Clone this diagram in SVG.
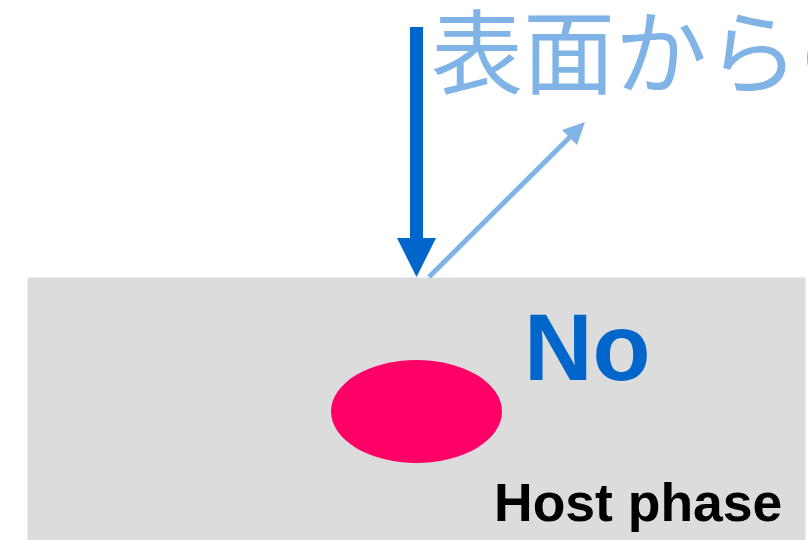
<svg xmlns="http://www.w3.org/2000/svg" width="808" height="540" viewBox="0 0 808 540">
<style>
.jp{font-family:"Noto Sans CJK JP","Noto Sans",sans-serif;fill:#80B3E6;}
.lbl{font-family:"Liberation Sans",Arial,sans-serif;font-weight:bold;}
</style>
<rect id="host" x="27.5" y="277.5" width="778" height="263" fill="#DCDCDC"/>
<g id="particle"><ellipse cx="416.5" cy="411.5" rx="85.5" ry="51.5" fill="#FF0066"/></g>
<g id="connectors">
<rect x="410" y="27" width="13" height="213" fill="#0066CC"/>
<polygon points="397,238 436,238 416.5,277" fill="#0066CC"/>
<line x1="429" y1="277" x2="572" y2="135" stroke="#80B3E6" stroke-width="5"/>
<polygon points="585,122 577,145 562,130" fill="#80B3E6"/>
</g>
<g id="title"><text class="jp" x="431" y="87" font-size="92">表面からの</text></g>
<g id="no"><text class="lbl" x="524" y="380" font-size="95" fill="#0066CC">No</text></g>
<g id="hostlabel"><text class="lbl" x="494" y="521" font-size="53.5" fill="#000">Host phase</text></g>
</svg>
